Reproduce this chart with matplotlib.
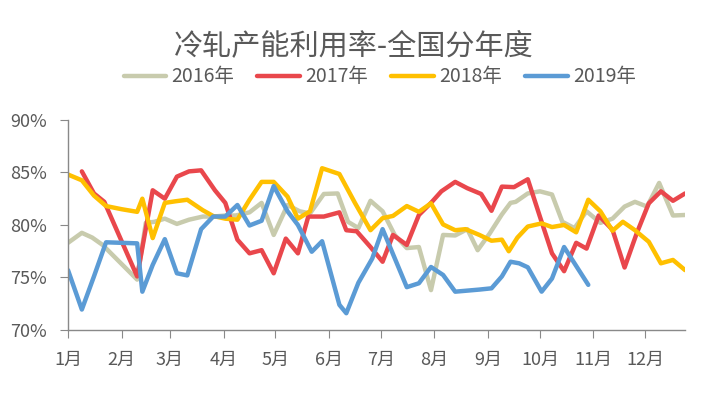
import matplotlib
matplotlib.use("Agg")
import matplotlib.pyplot as plt
from matplotlib.ticker import FuncFormatter

plt.rcParams['font.family'] = ['Noto Sans CJK SC', 'DejaVu Sans']

# 每周数据: 年内天数(从1月1日起) 和 产能利用率(%)
d16 = [0, 8, 14, 20, 40, 45, 50, 56, 63, 70, 78, 84, 91, 97, 105, 112, 119, 127, 134, 140,
       148, 156, 162, 168, 175, 182, 189, 196, 203, 210, 217, 224, 231, 237, 244, 251, 256, 259,
       266, 273, 280, 286, 293, 300, 308, 315, 322, 328, 335, 342, 350, 357]
v16 = [78.3, 79.25, 78.8, 78.1, 74.8, 80.2, 80.3, 80.6, 80.1, 80.5, 80.8, 80.8, 80.9, 80.9, 81.2,
       82.1, 79.05, 81.9, 81.3, 81.1, 82.95, 83.0, 80.3, 79.7, 82.3, 81.3, 79.05, 77.8, 77.9, 73.8,
       79.05, 79.0, 79.6, 77.6, 79.2, 81.0, 82.1, 82.2, 83.0, 83.2, 82.9, 80.3, 79.7, 81.3, 80.2,
       80.6, 81.75, 82.2, 81.75, 84.0, 80.9, 80.95]

d17 = [8, 15, 21, 40, 49, 56, 63, 70, 77, 85, 91, 98, 105, 112, 119, 126, 133, 139, 148, 157,
       161, 167, 175, 182, 188, 196, 203, 210, 216, 224, 231, 239, 245, 251, 258, 266, 273, 280,
       287, 294, 300, 307, 315, 322, 329, 336, 343, 350, 357]
v17 = [85.1, 83.0, 82.2, 75.1, 83.3, 82.5, 84.6, 85.1, 85.2, 83.3, 82.1, 78.6, 77.3, 77.6, 75.4,
       78.7, 77.3, 80.8, 80.8, 81.2, 79.5, 79.4, 77.9, 76.5, 79.05, 78.1, 80.95, 82.1, 83.2, 84.1,
       83.5, 82.95, 81.35, 83.65, 83.6, 84.35, 80.8, 77.3, 75.6, 78.3, 77.75, 80.9, 79.55, 75.95,
       79.2, 82.06, 83.2, 82.3, 83.0]

d18 = [0, 8, 15, 22, 31, 40, 43, 49, 56, 62, 69, 78, 84, 91, 98, 105, 112, 119, 127, 133,
       140, 147, 157, 166, 175, 182, 188, 196, 203, 210, 217, 224, 230, 238, 245, 251, 255, 260,
       266, 274, 280, 287, 294, 301, 308, 315, 321, 328, 336, 343, 350, 357]
v18 = [84.8, 84.25, 82.8, 81.8, 81.5, 81.25, 82.5, 78.75, 82.1, 82.25, 82.4, 81.4, 80.85, 80.6,
       80.5, 82.4, 84.1, 84.1, 82.7, 80.6, 81.3, 85.4, 84.85, 82.1, 79.5, 80.65, 80.86, 81.8,
       81.25, 82.06, 80.05, 79.5, 79.6, 79.05, 78.5, 78.6, 77.5, 78.8, 79.85, 80.15, 79.8, 80.0,
       79.3, 82.4, 81.3, 79.45, 80.3, 79.5, 78.4, 76.35, 76.67, 75.7]

d19 = [0, 8, 15, 22, 31, 40, 43, 49, 56, 63, 69, 77, 84, 91, 98, 105, 112, 119, 127, 133,
       141, 147, 157, 161, 168, 176, 182, 196, 203, 210, 217, 224, 231, 238, 245, 251, 256, 261,
       266, 274, 280, 287, 301]
v19 = [75.7, 71.95, 75.1, 78.35, 78.3, 78.25, 73.65, 76.2, 78.65, 75.4, 75.2, 79.6, 80.8, 80.8,
       81.9, 79.95, 80.4, 83.7, 81.3, 80.0, 77.45, 78.45, 72.4, 71.6, 74.5, 76.8, 79.6, 74.08,
       74.45, 76.0, 75.24, 73.65, 73.75, 73.85, 73.97, 75.1, 76.5, 76.35, 75.97, 73.65, 74.9,
       77.9, 74.3]

month_starts = [0, 31, 59, 90, 120, 151, 181, 212, 243, 273, 304, 334]
month_labels = [f'{m}月' for m in range(1, 13)]

series = [
    ('2016年', d16, v16, '#c8cbad'),
    ('2017年', d17, v17, '#e9474c'),
    ('2018年', d18, v18, '#ffc000'),
    ('2019年', d19, v19, '#5b9bd5'),
]

txt = '#595959'
axis_c = '#898989'

fig = plt.figure(figsize=(7.07, 4.01), dpi=100)
ax = fig.add_axes([0.0962, 0.177, 0.8728, 0.524])

for name, d, v, c in series:
    ax.plot(d, v, color=c, lw=3.2, label=name,
            solid_joinstyle='round', solid_capstyle='round')

ax.set_xlim(0, 357)
ax.set_ylim(70, 90)
ax.set_yticks([70, 75, 80, 85, 90])
ax.yaxis.set_major_formatter(FuncFormatter(lambda y, p: f'{y:.0f}%'))
ax.set_xticks(month_starts)
ax.set_xticklabels(month_labels)

for s in ['top', 'right']:
    ax.spines[s].set_visible(False)
for s in ['left', 'bottom']:
    ax.spines[s].set_color(axis_c)
    ax.spines[s].set_linewidth(1.0)

ax.tick_params(axis='y', colors=axis_c, labelcolor=txt, labelsize=13, length=6, pad=9)
ax.tick_params(axis='x', colors=axis_c, labelcolor=txt, labelsize=13, length=6, pad=9)

fig.text(0.5, 0.885, '冷轧产能利用率-全国分年度', ha='center', va='center',
         fontsize=21, color=txt)

fig.legend(loc='center', bbox_to_anchor=(0.537, 0.808), ncol=4, frameon=False,
           fontsize=14, handlelength=2.2, handletextpad=0.25, columnspacing=1.2,
           labelcolor=txt)

fig.savefig('out.png', dpi=100)
